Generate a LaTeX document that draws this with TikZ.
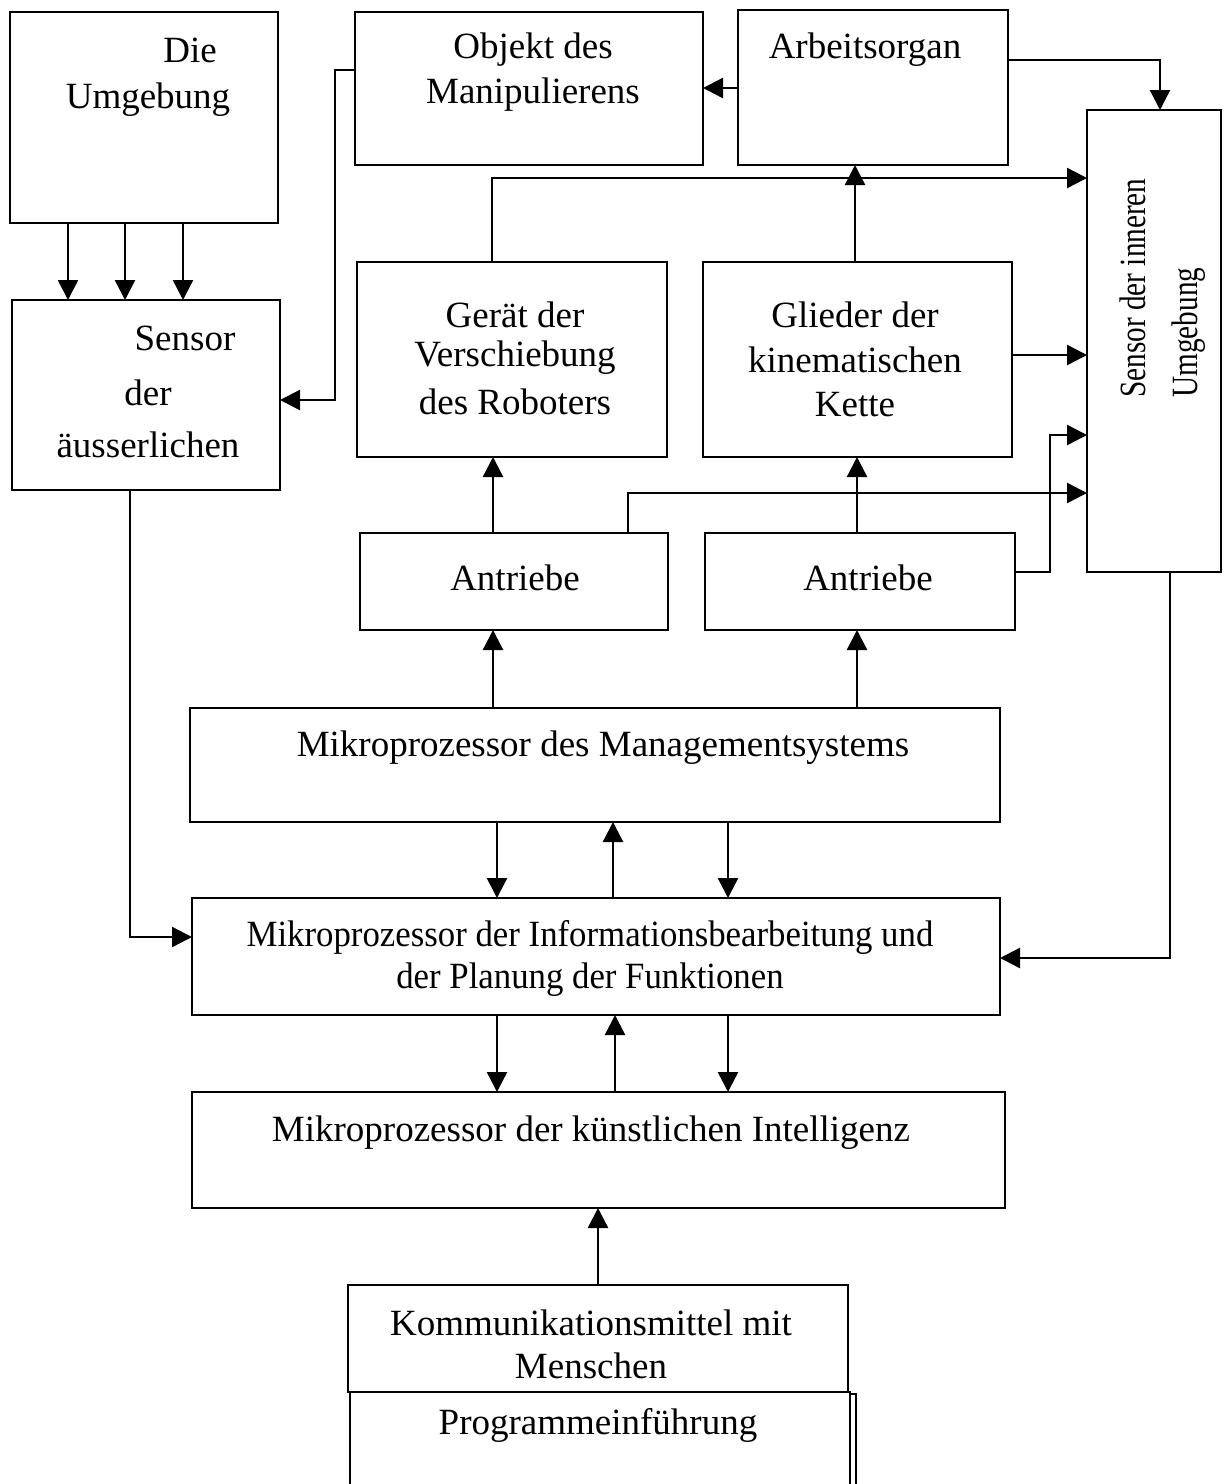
\documentclass[tikz,border=0pt]{standalone}
\usepackage{fontspec}
\setmainfont{Liberation Serif}
\usetikzlibrary{arrows.meta}
\newcommand\mkbox[5]{\node[bx, minimum width={(#4-#2)*0.5pt}, minimum height={(#5-#3)*0.5pt}] (#1) at ({(#2+#4)/2},{(#3+#5)/2}) {};}
\begin{document}
\begin{tikzpicture}[x=0.5pt,y=-0.5pt,
  bx/.style={draw, line width=1.4pt, inner sep=0pt, outer sep=0pt},
  txt/.style={inner sep=0pt, font=\fontsize{18.5}{22.5}\selectfont},
  arr/.style={line width=1.2pt, -{Triangle[length=10pt,width=10pt]}},
  ln/.style={line width=1.2pt}]
\useasboundingbox (0,0) rectangle (1225,1484);
\clip (0,0) rectangle (1225,1484);
% boxes
\mkbox{umg}{10}{12}{278}{223}
\mkbox{sae}{12}{300}{280}{490}
\mkbox{obj}{355}{12}{703}{165}
\mkbox{arb}{738}{10}{1008}{165}
\mkbox{sin}{1087}{110}{1221}{572}
\mkbox{ger}{357}{262}{667}{457}
\mkbox{gli}{703}{262}{1012}{457}
\mkbox{anA}{360}{533}{668}{630}
\mkbox{anB}{705}{533}{1015}{630}
\mkbox{mms}{190}{708}{1000}{822}
\mkbox{inf}{192}{898}{1000}{1015}
\mkbox{ki}{192}{1092}{1005}{1208}
\mkbox{kom}{348}{1285}{848}{1392}
\mkbox{prg}{350}{1392}{850}{1510}
\draw[ln, line width=1pt] (850,1394) -- (856,1394) -- (856,1510);
% texts
\node[txt] (t1) at (190,50) {Die};
\node[txt] (t2) at (148,100) {Umgebung};
\node[txt] (t3) at (185,338) {Sensor};
\node[txt] (t4) at (148,393) {der};
\node[txt] (t5) at (148,445) {äusserlichen};
\node[txt] (t6) at (533,50) {Objekt des};
\node[txt] (t7) at (533,95) {Manipulierens};
\node[txt] (t8) at (865,50) {Arbeitsorgan};
\node[txt] (t9) at (515,315) {Gerät der};
\node[txt] (t10) at (515,358) {Verschiebung};
\node[txt] (t11) at (515,402) {des Roboters};
\node[txt] (t12) at (855,315) {Glieder der};
\node[txt] (t13) at (855,360) {kinematischen};
\node[txt] (t14) at (855,405) {Kette};
\node[txt] (t15) at (515,578) {Antriebe};
\node[txt] (t16) at (868,578) {Antriebe};
\node[txt] (t17) at (603,748) {Mikroprozessor des Managementsystems};
\node[txt] (t18) at (590,937) {\scalebox{0.94}[1]{Mikroprozessor der Informationsbearbeitung und}};
\node[txt] (t19) at (590,980) {\scalebox{0.94}[1]{der Planung der Funktionen}};
\node[txt] (t20) at (591,1133) {Mikroprozessor der künstlichen Intelligenz};
\node[txt] (t21) at (591,1323) {Kommunikationsmittel mit};
\node[txt] (t22) at (591,1366) {Menschen};
\node[txt] (t23) at (598,1425) {Programmeinführung};
\node[txt, rotate=90, align=left, font=\fontsize{18.5}{26}\selectfont] (t24) at (1163,288) {\scalebox{0.79}[1]{Sensor der inneren}\\\scalebox{0.79}[1]{Umgebung}};
% connectors
\foreach \xx in {68,125,183} \draw[arr] (umg.south -| \xx,0) -- (sae.north -| \xx,0);
\draw[arr] (arb.west |- 0,88) -- (obj.east |- 0,88);
\draw[arr] (obj.west |- 0,70) -- (335,70) |- (sae.east |- 0,400);
\draw[arr] (arb.east |- 0,60) -| (sin.north -| 1160,0);
\draw[arr] (ger.north -| 492,0) |- (sin.west |- 0,178);
\draw[arr] (gli.north -| 855,0) -- (arb.south -| 855,0);
\draw[arr] (gli.east |- 0,355) -- (sin.west |- 0,355);
\draw[arr] (anA.north -| 493,0) -- (ger.south -| 493,0);
\draw[arr] (anB.north -| 857,0) -- (gli.south -| 857,0);
\draw[arr] (anA.north -| 628,0) |- (sin.west |- 0,493);
\draw[arr] (anB.east |- 0,572) -- (1050,572) |- (sin.west |- 0,435);
\draw[arr] (mms.north -| 493,0) -- (anA.south -| 493,0);
\draw[arr] (mms.north -| 857,0) -- (anB.south -| 857,0);
\draw[arr] (mms.south -| 497,0) -- (inf.north -| 497,0);
\draw[arr] (inf.north -| 613,0) -- (mms.south -| 613,0);
\draw[arr] (mms.south -| 728,0) -- (inf.north -| 728,0);
\draw[arr] (sae.south -| 130,0) |- (inf.west |- 0,937);
\draw[arr] (sin.south -| 1170,0) |- (inf.east |- 0,958);
\draw[arr] (inf.south -| 497,0) -- (ki.north -| 497,0);
\draw[arr] (ki.north -| 615,0) -- (inf.south -| 615,0);
\draw[arr] (inf.south -| 728,0) -- (ki.north -| 728,0);
\draw[arr] (kom.north -| 598,0) -- (ki.south -| 598,0);
\end{tikzpicture}
\end{document}
